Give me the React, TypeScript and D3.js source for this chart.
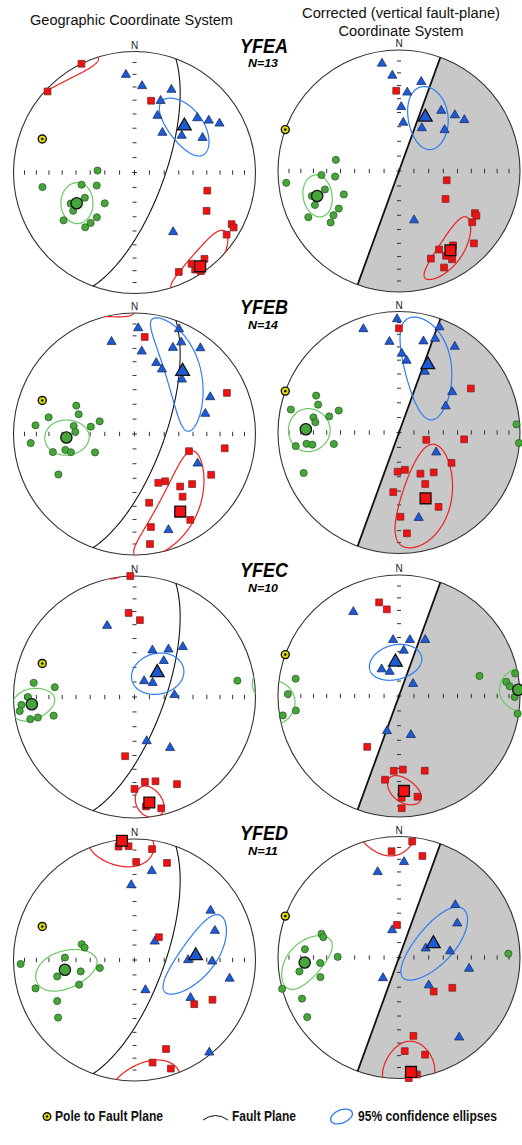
import * as d3 from "d3";

type Pt = [number, number]; // [trend, plunge] degrees
type Ell = [number, number, number, number, number]; // trend, plunge, semi-major, semi-minor, rotation (deg)

// ---- YFEA ----
const A_GEO_RED: Pt[] = [[334, 0], [313, 2], [13, 39], [104, 38], [118, 33], [118, 10], [119, 7], [124, 9], [141, 9], [148, 12], [148, 6], [146, 2], [156, 11]];
const A_GEO_BLUE: Pt[] = [[355, 20], [5, 29], [24, 26], [20, 37], [22, 48], [35, 57], [52, 49], [49, 32], [55, 26], [60, 20], [63, 37], [147, 41]];
const A_GEO_GREEN: Pt[] = [[273, 65], [261, 24], [257, 53], [251, 63], [243, 52], [244, 41], [238, 40], [224, 61], [236, 30], [222, 39], [221, 44], [220, 50]];
const A_GEO_MEAN: Pt[] = [[145, 6], [47, 43], [242, 45]];
const A_GEO_ELL: Ell[] = [[143, 6, 21, 11, 65], [47.5, 42, 21, 12.5, 97], [242, 45, 13.5, 11, -42]];

const A_COR_RED: Pt[] = [[358, 34], [101, 57], [121, 53], [119, 29], [120, 27], [125, 27], [134, 15], [144, 25], [153, 28], [160, 24], [151, 21], [149, 16], [155, 13]];
const A_COR_BLUE: Pt[] = [[351, 11], [356, 22], [14, 25], [6, 35], [2, 46], [5, 57], [28, 57], [35, 39], [45, 35], [52, 32], [48, 48], [163, 55]];
const A_COR_GREEN: Pt[] = [[280, 46], [264, 7], [267, 36], [265, 46], [256, 37], [247, 49], [254, 26], [248, 26], [238, 41], [236, 35], [243, 17], [233, 30]];
const A_COR_MEAN: Pt[] = [[147, 23], [26, 49], [253, 30]];
const A_COR_ELL: Ell[] = [[147, 22.5, 22.7, 9, 55], [28.5, 48, 22, 13, -29], [253, 30, 12.5, 11, -63]];

// ---- YFEB ----
const B_GEO_RED: Pt[] = [[6, 20.5], [66, 17.5], [99, 25.5], [107.5, 51], [118, 29], [154, 53], [147, 51.5], [139, 42], [131, 37], [142.5, 35], [168, 41.5], [147, 16.5], [170, 23], [172, 9]];
const B_GEO_BLUE: Pt[] = [[2, 13.5], [23, 6.5], [346, 22.5], [27, 16], [5, 32], [24, 23], [37.5, 11.5], [17, 38.5], [23, 41.5], [41, 40], [64, 31], [74, 39], [115, 42], [160.5, 17]];
const B_GEO_GREEN: Pt[] = [[296, 45.5], [289.5, 49.5], [281, 28.5], [275, 19], [290, 65], [279.5, 60], [277.5, 48], [272, 49.5], [265, 15], [257.5, 31.5], [257, 41], [254, 44.5], [245, 60.5], [242, 29.5]];
const B_GEO_MEAN: Pt[] = [[149.5, 26.5], [37.5, 35], [267, 43]];
const B_GEO_ELL: Ell[] = [[151, 28, 40, 13.5, 46], [37, 34, 40, 12, -45], [267, 43, 16.3, 10.8, 0]];

const B_COR_RED: Pt[] = [[0, 15], [58.5, 31], [105, 71], [96, 45], [120, 48.5], [182, 63.5], [171, 64.5], [152.5, 58.5], [139, 54], [153, 50.5], [185.5, 49], [152, 31], [179, 31], [175.5, 17.5]];
const B_COR_BLUE: Pt[] = [[359, 7], [341, 10.5], [21, 7.5], [354, 25.5], [15, 23], [21, 18], [33, 16.5], [2, 35], [6, 40], [23, 44.5], [52.7, 44], [60.6, 53.5], [118, 61.5], [167, 28.5]];
const B_COR_GREEN: Pt[] = [[294, 26], [289, 30], [282, 9.5], [290, 46], [280, 29], [283, 40.5], [277, 31], [262.5, 15], [263, 24], [262, 28.5], [260, 44.5], [247, 15.5], [86, 3], [95, 0.5]];
const B_COR_MEAN: Pt[] = [[158, 41], [23, 39], [272, 24]];
const B_COR_ELL: Ell[] = [[158, 39.5, 38, 16, 30], [23, 39, 37.5, 15, -27], [271.5, 26, 16.5, 12.2, 0]];

// ---- YFEC ----
const C_GEO_RED: Pt[] = [[358, 0], [356, 31], [4, 36.5], [189, 49], [173, 30], [166, 29], [154, 21], [180, 25], [174, 10], [166.5, 6]];
const C_GEO_BLUE: Pt[] = [[339, 37], [21, 56], [35.5, 50], [44, 42], [39, 58.5], [31, 77.5], [52, 74.5], [87, 63], [164.5, 59], [145, 47.5]];
const C_GEO_GREEN: Pt[] = [[278, 17], [277, 34], [270, 13], [266, 7], [263, 5], [258, 13], [258, 19.5], [257, 32], [81, 15]];
const C_GEO_MEAN: Pt[] = [[172, 13], [43, 67.5], [266, 16]];
const C_GEO_ELL: Ell[] = [[172, 13, 14, 7, -9], [45, 67.7, 18, 13.5, 28], [266, 16, 18.5, 8.3, -7]];

const C_COR_RED: Pt[] = [[348, 22], [352, 28.5], [212, 49], [184, 38], [177, 39], [161, 35], [189.5, 30.5], [178.5, 17], [169.6, 16.5], [178.6, 8]];
const C_COR_BLUE: Pt[] = [[331.5, 22], [354, 51.5], [11, 51], [25, 47.5], [6, 59], [327, 68.5], [339, 72.5], [49, 77.5], [199, 65], [163, 62.5]];
const C_COR_GREEN: Pt[] = [[279.5, 14.5], [271, 9], [262, 15], [260.5, 3], [76, 32], [79, 2.5], [82.5, 11.5], [85, 9], [90.5, 5], [98.5, 1]];
const C_COR_MEAN: Pt[] = [[177, 22.5], [354, 67], [87, 1.5]];
const C_COR_ELL: Ell[] = [[177, 22.5, 13.3, 7.4, -30], [354, 67, 17.6, 11.8, 81], [87, 1.5, 16.5, 10, 0]];

// ---- YFED ----
const D_GEO_RED: Pt[] = [[352, 6], [357, 6.5], [9, 8], [1, 20], [18.5, 16.5], [47, 67.5], [126.5, 38.5], [117, 28.5], [160.5, 23], [170, 15], [161.5, 6]];
const D_GEO_BLUE: Pt[] = [[11, 26], [357.5, 38], [57, 26], [70, 30], [47.5, 71.5], [90, 53.5], [91, 36], [101, 21], [160, 68.5], [124, 43.5], [141, 2]];
const D_GEO_GREEN: Pt[] = [[286.6, 52.5], [284, 55], [268, 6.5], [272, 42], [257, 66], [258, 52.5], [258, 35], [246, 48.5], [254, 16], [242, 28.5], [233, 22]];
const D_GEO_MEAN: Pt[] = [[354, 1], [86, 48], [262, 41.5]];
const D_GEO_ELL: Ell[] = [[354, 3.5, 21, 15, -19], [87, 46, 32, 12, -45], [262, 41.5, 23.5, 11.5, -9]];

const D_COR_RED: Pt[] = [[6.5, 4], [356, 13], [13, 15], [356.5, 68], [119.6, 48], [134.5, 57], [169.6, 34.5], [176.5, 23.5], [165, 18], [175.4, 0], [171.3, 2.5]];
const D_COR_BLUE: Pt[] = [[3, 22], [346, 28], [47, 36.5], [59.6, 43.5], [346, 71], [71, 71], [83, 55], [99, 41], [218, 72.5], [133, 62.5], [143, 18.5]];
const D_COR_GREEN: Pt[] = [[287, 33.5], [285, 35.5], [275, 23], [270.6, 48], [266, 35], [262, 18], [256, 33.5], [255, 0], [247, 14], [237, 10.5], [88, 10.5]];
const D_COR_MEAN: Pt[] = [[174, 5.5], [68, 65], [267, 23]];
const D_COR_ELL: Ell[] = [[175, 7, 24, 13, 4], [70, 63.5, 31.5, 12.4, -27], [268, 23, 23, 11, -29]];

const SAMPLES = ["YFEA", "YFEB", "YFEC", "YFED"];
const COUNTS = [13, 14, 10, 11];
const POLE_GEO: Pt = [290, 20];
const POLE_COR: Pt = [290, 0];
const TICK_PLUNGES = [80, 70, 60, 50, 40, 30, 20, 10];

const W = 522;
const H = 1145;
const R = 121;
const GEO_CX = 134.5;
const COR_CX = 399;
const GEO_CY = [172.5, 434, 697, 960];
const COR_CY = [171, 432.5, 696, 957.5];

const FILL = { red: "#f21010", blue: "#1d5ad6", green: "#47a63a" };
const EDGE = { red: "#7d2a2a", blue: "#1b2d60", green: "#2a5f24" };
const ELL_COLOR = ["#ef2020", "#2f7cf2", "#6cc866"];
const FONT = "'Liberation Sans', Arial, sans-serif";
const NARROW = "'Liberation Sans Narrow', 'Arial Narrow', 'Liberation Sans', Arial, sans-serif";

const rad = (d: number) => (d * Math.PI) / 180;

// unit vector (east, north, down)
function vec(trend: number, plunge: number): number[] {
  const t = rad(trend);
  const p = rad(plunge);
  return [Math.sin(t) * Math.cos(p), Math.cos(t) * Math.cos(p), Math.sin(p)];
}

// lower-hemisphere equal-area (Schmidt) projection to unit disk
function project(v: number[]): [number, number] {
  const len = Math.hypot(v[0], v[1], v[2]);
  let [e, n, d] = v.map((x) => x / len);
  if (d < -1e-12) {
    e = -e;
    n = -n;
    d = -d;
  }
  const h = Math.hypot(e, n);
  const r = Math.sqrt(Math.max(0, 1 - d));
  if (h < 1e-9) return [0, 0];
  return [(r * e) / h, (r * n) / h];
}

// confidence cone -> projected segments (wraps through the primitive)
function ellipseSegments(el: Ell): [number, number][][] {
  const [tr, pl, a, b, rot] = el;
  const m = vec(tr, pl);
  const t = rad(tr);
  const p = rad(pl);
  const r = rad(rot);
  const ur = [Math.sin(t) * Math.sin(p), Math.cos(t) * Math.sin(p), -Math.cos(p)];
  const ut = [Math.cos(t), -Math.sin(t), 0];
  const w1 = ur.map((u, i) => Math.cos(r) * u + Math.sin(r) * ut[i]);
  const w2 = ur.map((u, i) => -Math.sin(r) * u + Math.cos(r) * ut[i]);
  const ta = Math.tan(rad(a));
  const tb = Math.tan(rad(b));
  const N = 360;
  const vs = d3.range(N + 1).map((k) => {
    const s = (2 * Math.PI * k) / N;
    return m.map((mi, i) => mi + ta * Math.cos(s) * w1[i] + tb * Math.sin(s) * w2[i]);
  });
  const segs: { pts: number[][]; up: boolean }[] = [];
  let cur = { pts: [vs[0]], up: vs[0][2] < 0 };
  for (let k = 1; k < vs.length; k++) {
    const v0 = vs[k - 1];
    const v1 = vs[k];
    const up1 = v1[2] < 0;
    if (up1 !== cur.up) {
      const s = v0[2] / (v0[2] - v1[2]);
      const vc = v0.map((x, i) => x + s * (v1[i] - x));
      vc[2] = 0;
      cur.pts.push(vc);
      segs.push(cur);
      cur = { pts: [vc], up: up1 };
    }
    cur.pts.push(v1);
  }
  segs.push(cur);
  if (segs.length > 1) {
    const last = segs.pop()!;
    segs[0].pts = last.pts.concat(segs[0].pts.slice(1));
  }
  return segs.map((sg) =>
    sg.pts.map((v) => project(sg.up ? [-v[0], -v[1], -v[2] === 0 ? 0 : -v[2]] : v))
  );
}

const SYM = {
  red: d3.symbol().type(d3.symbolSquare).size(46)(),
  redBig: d3.symbol().type(d3.symbolSquare).size(118)(),
  blue: d3.symbol().type(d3.symbolTriangle).size(36)(),
  blueBig: d3.symbol().type(d3.symbolTriangle).size(82)(),
  green: d3.symbol().type(d3.symbolCircle).size(40)(),
  greenBig: d3.symbol().type(d3.symbolCircle).size(100)(),
};

type NetProps = {
  cx: number;
  cy: number;
  corrected: boolean;
  red: Pt[];
  blue: Pt[];
  green: Pt[];
  mean: Pt[];
  ell: Ell[];
};

function Net({ cx, cy, corrected, red, blue, green, mean, ell }: NetProps) {
  const sx = d3.scaleLinear().domain([-1, 1]).range([cx - R, cx + R]);
  const sy = d3.scaleLinear().domain([-1, 1]).range([cy + R, cy - R]);
  const line = d3
    .line<[number, number]>()
    .x((d) => sx(d[0]))
    .y((d) => sy(d[1]));
  const pos = (p: Pt) => {
    const q = project(vec(p[0], p[1]));
    return [sx(q[0]), sy(q[1])];
  };

  const pole = corrected ? POLE_COR : POLE_GEO;
  const strike = (pole[0] + 90) % 360;
  const sv = vec(strike, 0);
  const dv = vec(pole[0] - 180, 90 - pole[1]);
  const faultPts = d3.range(0, 181, 1).map((deg) => {
    const a = rad(deg);
    return project(sv.map((s, i) => Math.cos(a) * s + Math.sin(a) * dv[i]));
  });
  const half = d3.arc()({
    innerRadius: 0,
    outerRadius: R,
    startAngle: rad(strike),
    endAngle: rad(strike + 180),
  } as any);

  const tickR = TICK_PLUNGES.map((p) => Math.sqrt(1 - Math.sin(rad(p))));
  const sets: [Pt[], keyof typeof FILL][] = [
    [green, "green"],
    [blue, "blue"],
    [red, "red"],
  ];
  const [pX, pY] = pos(pole);

  return (
    <g>
      {corrected && <path d={half ?? ""} transform={`translate(${cx},${cy})`} fill="#c8c8c8" />}
      <circle cx={cx} cy={cy} r={R} fill="none" stroke="#333" strokeWidth={1.1} />
      <text x={cx} y={cy - R - 3} fontSize={10} textAnchor="middle" fontFamily={FONT} fill="#222">
        N
      </text>

      {/* axis ticks */}
      <g stroke="#333" strokeWidth={1}>
        {tickR.flatMap((r) => [-r, r]).map((r, i) => (
          <line key={`h${i}`} x1={sx(r)} x2={sx(r)} y1={cy - 2.2} y2={cy + 2.2} />
        ))}
        {tickR.flatMap((r) => [-r, r]).map((r, i) => (
          <line key={`v${i}`} x1={cx - 2} x2={cx + 2} y1={sy(r)} y2={sy(r)} />
        ))}
        <line x1={cx - 2.5} x2={cx + 2.5} y1={cy} y2={cy} />
        <line x1={cx} x2={cx} y1={cy - 2.5} y2={cy + 2.5} />
      </g>

      {/* fault plane */}
      <path
        d={line(faultPts) ?? ""}
        fill="none"
        stroke="#111"
        strokeWidth={corrected ? 1.8 : 1.1}
      />

      {/* confidence ellipses */}
      {ell.map((el, i) =>
        ellipseSegments(el).map((seg, j) => (
          <path key={`e${i}-${j}`} d={line(seg) ?? ""} fill="none" stroke={ELL_COLOR[i]} strokeWidth={1.2} />
        ))
      )}

      {/* data */}
      {sets.map(([pts, key]) =>
        pts.map((p, i) => {
          const [x, y] = pos(p);
          return (
            <path
              key={`${key}${i}`}
              d={SYM[key] ?? ""}
              transform={`translate(${x},${y})`}
              fill={FILL[key]}
              stroke={EDGE[key]}
              strokeWidth={0.8}
            />
          );
        })
      )}

      {/* pole to fault plane */}
      <circle cx={pX} cy={pY} r={4} fill="#e3dc0c" stroke="#111" strokeWidth={1.4} />
      <circle cx={pX} cy={pY} r={1.3} fill="#111" />

      {/* means */}
      {(["red", "blue", "green"] as const).map((key, i) => {
        const [x, y] = pos(mean[i]);
        const big = (key + "Big") as keyof typeof SYM;
        return (
          <path
            key={`m${key}`}
            d={SYM[big] ?? ""}
            transform={`translate(${x},${y})`}
            fill={FILL[key]}
            stroke="#111"
            strokeWidth={1.3}
          />
        );
      })}
    </g>
  );
}

const GEO_SETS = [
  [A_GEO_RED, A_GEO_BLUE, A_GEO_GREEN, A_GEO_MEAN, A_GEO_ELL],
  [B_GEO_RED, B_GEO_BLUE, B_GEO_GREEN, B_GEO_MEAN, B_GEO_ELL],
  [C_GEO_RED, C_GEO_BLUE, C_GEO_GREEN, C_GEO_MEAN, C_GEO_ELL],
  [D_GEO_RED, D_GEO_BLUE, D_GEO_GREEN, D_GEO_MEAN, D_GEO_ELL],
] as const;
const COR_SETS = [
  [A_COR_RED, A_COR_BLUE, A_COR_GREEN, A_COR_MEAN, A_COR_ELL],
  [B_COR_RED, B_COR_BLUE, B_COR_GREEN, B_COR_MEAN, B_COR_ELL],
  [C_COR_RED, C_COR_BLUE, C_COR_GREEN, C_COR_MEAN, C_COR_ELL],
  [D_COR_RED, D_COR_BLUE, D_COR_GREEN, D_COR_MEAN, D_COR_ELL],
] as const;

export default function App() {
  const ly = 1121;
  return (
    <svg
      width={W}
      height={H}
      viewBox={`0 0 ${W} ${H}`}
      style={{ position: "absolute", left: 0, top: 0, background: "#fff" }}
    >
      <text x={131.5} y={25} fontSize={14.7} textAnchor="middle" fontFamily={FONT} fill="#111" textLength={203} lengthAdjust="spacingAndGlyphs">
        Geographic Coordinate System
      </text>
      <text x={401} y={18} fontSize={14.7} textAnchor="middle" fontFamily={FONT} fill="#111" textLength={198} lengthAdjust="spacingAndGlyphs">
        Corrected (vertical fault-plane)
      </text>
      <text x={401} y={35.5} fontSize={14.7} textAnchor="middle" fontFamily={FONT} fill="#111" textLength={125} lengthAdjust="spacingAndGlyphs">
        Coordinate System
      </text>

      {SAMPLES.map((name, row) => {
        const g = GEO_SETS[row];
        const c = COR_SETS[row];
        const ty = GEO_CY[row] - 120;
        return (
          <g key={name}>
            <Net cx={GEO_CX} cy={GEO_CY[row]} corrected={false} red={g[0] as Pt[]} blue={g[1] as Pt[]} green={g[2] as Pt[]} mean={g[3] as Pt[]} ell={g[4] as Ell[]} />
            <Net cx={COR_CX} cy={COR_CY[row]} corrected={true} red={c[0] as Pt[]} blue={c[1] as Pt[]} green={c[2] as Pt[]} mean={c[3] as Pt[]} ell={c[4] as Ell[]} />
            <text x={264} y={ty} fontSize={20} fontWeight={700} fontStyle="italic" textAnchor="middle" fontFamily={NARROW} fill="#000" textLength={48} lengthAdjust="spacingAndGlyphs">
              {name}
            </text>
            <text x={263} y={ty + 14.5} fontSize={11.5} fontWeight={700} fontStyle="italic" textAnchor="middle" fontFamily={NARROW} fill="#000" textLength={30} lengthAdjust="spacingAndGlyphs">
              {`N=${COUNTS[row]}`}
            </text>
          </g>
        );
      })}

      {/* legend */}
      <g fontFamily={NARROW} fontWeight={700} fontSize={14} fill="#111">
        <circle cx={47} cy={ly - 4.5} r={3.8} fill="#e3dc0c" stroke="#111" strokeWidth={1.4} />
        <circle cx={47} cy={ly - 4.5} r={1.2} fill="#111" />
        <text x={55} y={ly} textLength={108} lengthAdjust="spacingAndGlyphs">
          Pole to Fault Plane
        </text>
        <path d={`M203,${ly - 1} Q215.5,${ly - 10} 228,${ly - 1}`} fill="none" stroke="#111" strokeWidth={1} />
        <text x={232} y={ly} textLength={64} lengthAdjust="spacingAndGlyphs">
          Fault Plane
        </text>
        <ellipse cx={341.5} cy={ly - 4.5} rx={11.5} ry={6.5} transform={`rotate(-22 341.5 ${ly - 4.5})`} fill="none" stroke="#2f7cf2" strokeWidth={1.3} />
        <text x={358} y={ly} textLength={139} lengthAdjust="spacingAndGlyphs">
          95% confidence ellipses
        </text>
      </g>
    </svg>
  );
}
